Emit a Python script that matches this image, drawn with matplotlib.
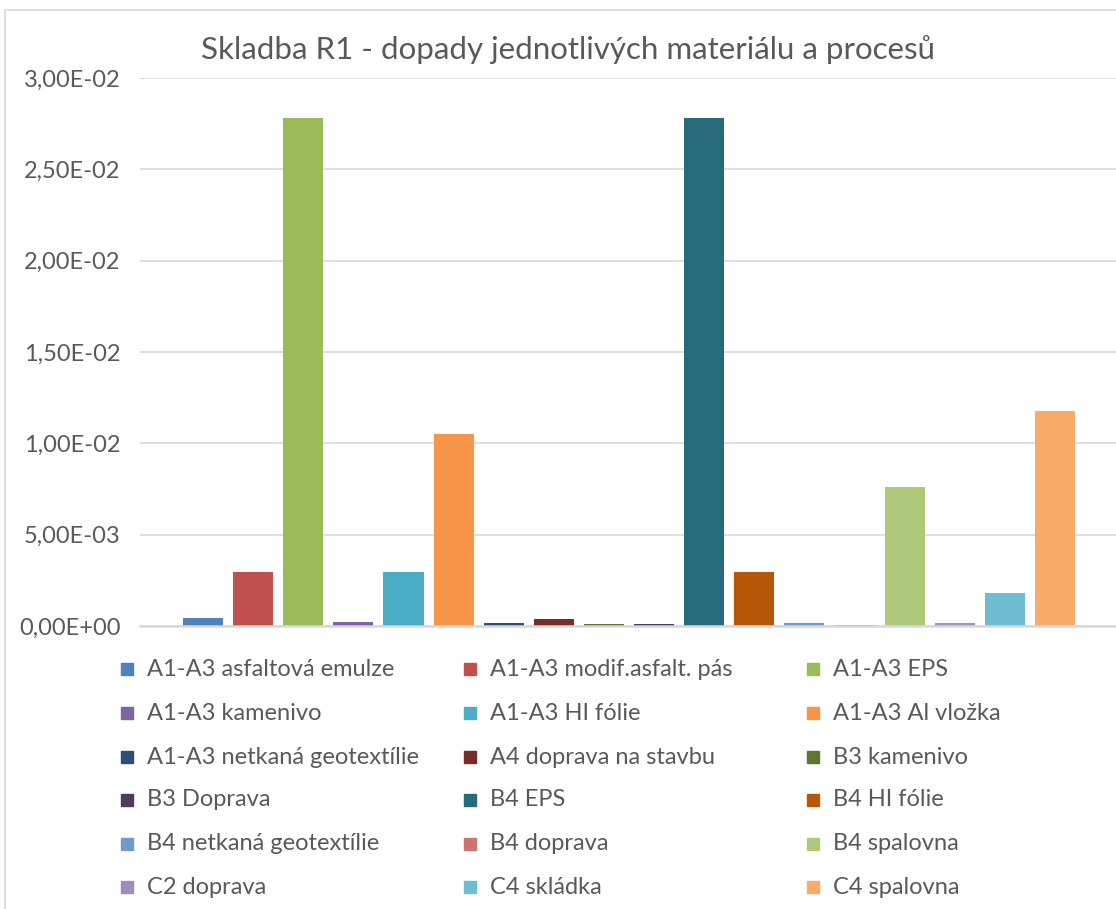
import numpy as np
import matplotlib.pyplot as plt
from matplotlib.patches import Rectangle
from matplotlib.ticker import FuncFormatter

plt.rcParams['font.family'] = ['Lato', 'DejaVu Sans']

# Series (one bar each)
labels = ['A1-A3 asfaltová emulze', 'A1-A3 modif.asfalt. pás', 'A1-A3 EPS',
          'A1-A3 kamenivo', 'A1-A3 HI fólie', 'A1-A3 Al vložka',
          'A1-A3 netkaná geotextílie', 'A4 doprava na stavbu', 'B3 kamenivo',
          'B3 Doprava', 'B4 EPS', 'B4 HI fólie',
          'B4 netkaná geotextílie', 'B4 doprava', 'B4 spalovna',
          'C2 doprava', 'C4 skládka', 'C4 spalovna']
values = [4.5e-4, 2.95e-3, 2.78e-2,
          2.4e-4, 2.96e-3, 1.05e-2,
          1.5e-4, 3.8e-4, 1.1e-4,
          1.3e-4, 2.78e-2, 2.96e-3,
          1.5e-4, 6e-5, 7.6e-3,
          1.4e-4, 1.79e-3, 1.175e-2]
colors = ['#4F81BD', '#C0504D', '#9BBB59', '#8064A2', '#4BACC6', '#F79646',
          '#2C4D75', '#772C2A', '#5F7530', '#4D3B62', '#276A7C', '#B65708',
          '#729ACA', '#CD7371', '#AFC97A', '#A18CBE', '#6FBDD1', '#F9AB6B']
yticks = [0, 0.005, 0.01, 0.015, 0.02, 0.025, 0.03]

W, H = 1116, 909
fig = plt.figure(figsize=(W / 100, H / 100), dpi=100)
txt = '#595959'

# chart border
fig.add_artist(Rectangle((5 / W, -0.01), 1.0, 1 - 10 / H + 0.01,
                         transform=fig.transFigure, fill=False,
                         edgecolor='#D9D9D9', lw=1.2))

ax = fig.add_axes([140 / W, 1 - 626 / H, 1 - 140 / W, (626 - 78) / H])
x = np.arange(len(values))
ax.bar(x, values, width=0.8, color=colors, linewidth=0, zorder=3)

ax.set_xlim(-1.26, len(values) - 1 + 1.22)
ax.set_ylim(0, 0.03)
ax.set_yticks(yticks)
ax.yaxis.set_major_formatter(FuncFormatter(
    lambda v, p: ('%.2E' % v).replace('.', ',')))
ax.set_xticks([])
ax.grid(axis='y', color='#D9D9D9', lw=1.2, zorder=0)
for s in ['top', 'right', 'left']:
    ax.spines[s].set_visible(False)
ax.spines['bottom'].set_color('#D9D9D9')
ax.spines['bottom'].set_linewidth(1.8)
ax.spines['bottom'].set_zorder(4)
ax.tick_params(axis='y', length=0, pad=14, labelsize=17, labelcolor=txt)

fig.text(568 / W, 1 - 50 / H, 'Skladba R1 - dopady jednotlivých materiálu a procesů',
         ha='center', va='center', fontsize=22.5, color=txt)

# legend, 3 columns x 6 rows
col_x = [127, 470, 813]
row_y = [669, 713, 757, 800, 844, 887]
for i, (lab, c) in enumerate(zip(labels, colors)):
    cx = col_x[i % 3]
    cy = row_y[i // 3]
    fig.add_artist(Rectangle(((cx - 6) / W, 1 - (cy + 6) / H), 12 / W, 12 / H,
                             transform=fig.transFigure, color=c))
    fig.text((cx + 20) / W, 1 - cy / H, lab, ha='left', va='center',
             fontsize=17, color=txt)

fig.savefig('out.png', dpi=100)
